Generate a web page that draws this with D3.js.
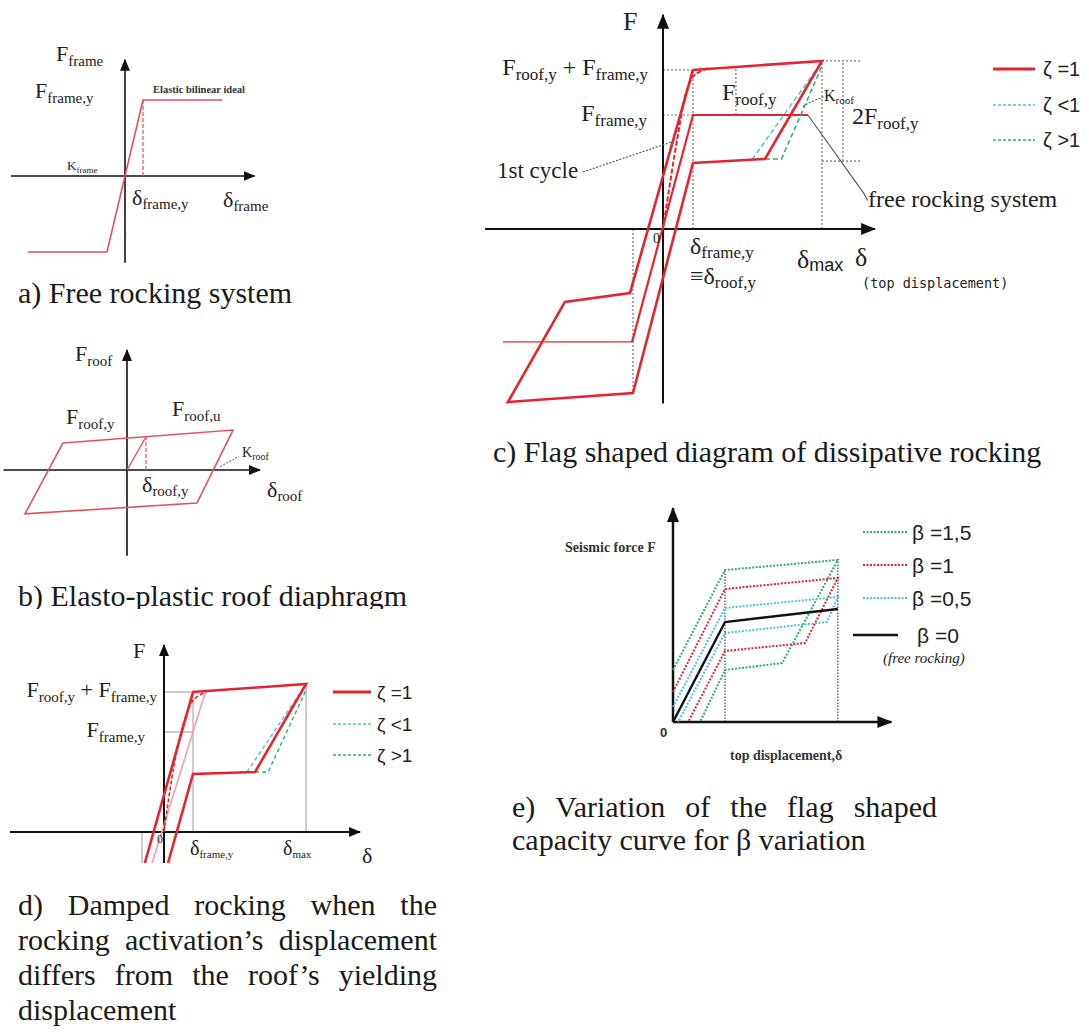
<!DOCTYPE html>
<html><head><meta charset="utf-8">
<script src="https://cdn.jsdelivr.net/npm/d3@7"></script>
<style>body{margin:0;background:#fff} text{white-space:pre}</style>
</head><body>
<svg id="chart" width="1089" height="1034"></svg>
<script>
// ================= DATA (δ in units of yield displacement, F in units of yield force) =================
// (a) free rocking system – elastic bilinear frame
const aFrameCurve = [[-5.4,-1],[-1,-1],[1,1],[5.4,1]];
const aYield = [1, 1];                       // [δframe,y , Fframe,y]
const aAxisX = [-6.33, 7.2], aAxisY = [-1.14, 1.53];
// (b) elasto-plastic roof diaphragm
const bRoofLoop = [[-3.37,0.82],[5.58,1.21],[3.68,-1.0],[-5.37,-1.33],[-3.37,0.82]];
const bRoofElastic = [[0,0],[1,1]];
const bYield = [1, 1];
const bAxisX = [-6.5, 7.0], bAxisY = [-2.6, 3.64];
// (c) flag shaped diagram
const cFlag = [[1,1.395],[5.3,1.474],[3.4,0.614],[1,0.579],[-1,-1.439],[-5.17,-1.518],[-3.27,-0.64],[-1.1,-0.561],[1,1.395]];
const cFreeRocking = [[-1.03,-0.99],[1,1],[4.83,1]];
const cFreeRockingNeg = [[-5.33,-0.99],[-1.03,-0.99]];
const cFirstCycle = [[0,0],[0.45,0.75],[0.8,1.22],[1.05,1.35],[1.5,1.41]];
const cZetaLess = [[2.97,0.61],[5.25,1.45]];
const cZetaMore = [[3.4,0.614],[3.95,0.614],[5.3,1.43]];
const cDeltaY = 1, cDeltaMax = 5.3, cFTop = 1.395, cFTopMax = 1.474, cFFrame = 1, cFLow = 0.596, cDeltaNeg = -1, cFNeg = -1.42;
const cDimX = 6.0, cGuideEnd = 6.57, cFroofX = 2.43, cFroofTop = 1.43;
const cLeader1st = [[-2.67,0.5],[0.47,0.78]];
const cLeaderFree = [[4.83,1],[6.7,0.31],[6.82,0.25]];
const cLeaderK = [[5.35,1.16],[4.95,1.12],[4.63,1.07]];
const cAxisX = [-5.93, 7.07], cAxisY = [-1.53, 1.88];
const cLegend = ['ζ =1','ζ <1','ζ >1'];
// (d) damped rocking
const dFlag = [[-0.66,-0.31],[1,1.4],[4.9,1.48],[3.14,0.6],[1,0.58],[0.14,-0.31]];
const dPink = [[-0.41,-0.31],[1.45,1.42]];
const dFirstCycle = [[0,0],[0.4,0.75],[0.8,1.2],[1.05,1.33],[1.5,1.41]];
const dZetaLess = [[2.86,0.6],[4.9,1.48]];
const dZetaMore = [[3.14,0.6],[3.59,0.6],[4.9,1.42]];
const dDeltaY = 1, dDeltaMax = 4.9, dFTop = 1.4, dFTopMax = 1.48, dFFrame = 1, dDeltaNeg = -0.76, dFBottom = -0.31;
const dAxisX = [-5.31, 6.76], dAxisY = [-0.31, 1.87];
const dLegend = ['ζ =1','ζ <1','ζ >1'];
// (e) beta variation
const eBeta0   = [[0,0],[1,1],[3.17,1.13]];
const eBeta15  = [[0,0.52],[1,1.52],[3.17,1.62],[2.1,0.59],[1,0.52],[0.52,0]];
const eBeta1   = [[0,0.30],[1,1.33],[3.17,1.44],[2.54,0.79],[1,0.71],[0.29,0]];
const eBeta05  = [[0,0.15],[1,1.14],[3.17,1.25],[2.96,1.0],[1,0.89],[0.1,0]];
const eDeltaY = 1, eDeltaMax = 3.17, eFYTop = 1.52, eFMaxTop = 1.62;
const eAxisX = [0, 4.2], eAxisY = [0, 2.14];
const eLegend = ['β =1,5','β =1','β =0,5','β =0'];
// captions
const capA = 'a) Free rocking system';
const capB = 'b) Elasto-plastic roof diaphragm';
const capC = 'c) Flag shaped diagram of dissipative rocking';
const capD = ['d) Damped rocking when the','rocking activation’s displacement','differs from the roof’s yielding','displacement'];
const capE = ['e) Variation of the flag shaped','capacity curve for β variation'];

// ================= STYLE / HELPERS =================
const SERIF = "'Liberation Serif','Times New Roman',serif";
const SANS = "'Liberation Sans',Arial,sans-serif";
const MONO = "'DejaVu Sans Mono',monospace";
const RED = '#e4252f', REDL = '#e4505a', PINK = '#f2a0a6', CYAN = '#4cc3dc', GREEN = '#2fae6b', GUIDE = '#777';
const svg = d3.select('#chart');
const defs = svg.append('defs');
function marker(id, w, h){
  defs.append('marker').attr('id',id).attr('viewBox',`0 0 ${w} ${h}`).attr('refX',w-1).attr('refY',h/2)
    .attr('markerWidth',w).attr('markerHeight',h).attr('markerUnits','userSpaceOnUse').attr('orient','auto')
    .append('path').attr('d',`M0,0L${w},${h/2}L0,${h}z`).attr('fill','#111');
}
marker('arrS',12,10); marker('arrM',15,12);
defs.append('clipPath').attr('id','clipB').append('rect').attr('x',0).attr('y',560).attr('width',1089).attr('height',49);

function panel(xr, yr){ return {x:d3.scaleLinear().domain([0,1]).range(xr), y:d3.scaleLinear().domain([0,1]).range(yr)}; }
const pa = panel([125,143],[176,100]);
const pb = panel([127,146],[470,437]);
const pc = panel([663,693],[229,115]);
const pd = panel([164,193],[832,732]);
const pe = panel([673,725],[722,622]);

function draw(p, data, st, curve){
  const ln = d3.line().x(d=>p.x(d[0])).y(d=>p.y(d[1])).curve(curve||d3.curveLinear);
  const path = svg.append('path').attr('d', ln(data)).attr('fill','none')
    .attr('stroke', st.c).attr('stroke-width', st.w||1).attr('stroke-linejoin','miter');
  if (st.dash) path.attr('stroke-dasharray', st.dash);
  return path;
}
function axes(p, ax, ay, w, m){
  svg.append('line').attr('x1',p.x(ax[0])).attr('x2',p.x(ax[1])).attr('y1',p.y(0)).attr('y2',p.y(0))
    .attr('stroke','#111').attr('stroke-width',w).attr('marker-end',`url(#${m})`);
  svg.append('line').attr('x1',p.x(0)).attr('x2',p.x(0)).attr('y1',p.y(ay[0])).attr('y2',p.y(ay[1]))
    .attr('stroke','#111').attr('stroke-width',w).attr('marker-end',`url(#${m})`);
}
function lab(x, y, parts, o={}){
  const t = svg.append('text').attr('x',x).attr('y',y).attr('font-family',o.family||SERIF)
    .attr('fill',o.fill||'#222').attr('text-anchor',o.anchor||'start');
  if (o.italic) t.attr('font-style','italic');
  if (o.weight) t.attr('font-weight',o.weight);
  let cur = 0;
  parts.forEach(([s,size,off=0,fam])=>{
    const ts = t.append('tspan').attr('font-size',size).attr('dy',off-cur).text(s);
    if (fam) ts.attr('font-family',fam);
    cur = off;
  });
  return t;
}
function caption(x, y, str, size){
  return svg.append('text').attr('x',x).attr('y',y).attr('font-family',SERIF).attr('font-size',size).attr('fill','#1a1a1a').text(str);
}
function justified(x0, x1, y, str, size){
  const words = str.split(' ');
  const t = svg.append('text').attr('y',y).attr('font-family',SERIF).attr('font-size',size).attr('fill','#1a1a1a');
  const spans = words.map(w=>t.append('tspan').text(w));
  const wd = spans.map(s=>s.node().getComputedTextLength());
  const gap = words.length>1 ? (x1-x0-d3.sum(wd))/(words.length-1) : 0;
  let x = x0;
  spans.forEach((s,i)=>{ s.attr('x',x); x += wd[i]+gap; });
}

// ================= (a) =================
axes(pa, aAxisX, aAxisY, 1.6, 'arrS');
draw(pa, aFrameCurve, {c:REDL, w:1.6});
draw(pa, [[aYield[0],0],[aYield[0],aYield[1]]], {c:REDL, w:1.2, dash:'4 2'});
lab(56, 61, [['F',22],['frame',15,5]]);
lab(35, 98, [['F',22],['frame,y',15,5]]);
lab(153, 93, [['Elastic bilinear ideal',10.5]], {weight:'bold', fill:'#333'});
lab(67, 170, [['K',13],['frame',9,3]]);
lab(132, 205, [['δ',22],['frame,y',15,4]]);
lab(223, 207, [['δ',22],['frame',15,4]]);
caption(18, 303, capA, 30);

// ================= (b) =================
axes(pb, bAxisX, bAxisY, 1.6, 'arrS');
draw(pb, bRoofLoop, {c:REDL, w:1.6});
draw(pb, bRoofElastic, {c:REDL, w:1.4});
draw(pb, [[bYield[0],0],[bYield[0],bYield[1]]], {c:REDL, w:1.2, dash:'4 2'});
draw(pb, [[4.9,0.1],[5.9,0.42]], {c:'#555', w:1, dash:'2 1.5'});
lab(75, 361, [['F',22],['roof',15,5]]);
lab(66, 424, [['F',22],['roof,y',15,5]]);
lab(172, 416, [['F',22],['roof,u',15,5]]);
lab(242, 457, [['K',14],['roof',10,3]]);
lab(142, 492, [['δ',22],['roof,y',15,4]]);
lab(267, 497, [['δ',22],['roof',15,4]]);
caption(18, 606, capB, 30).attr('clip-path','url(#clipB)');

// ================= (c) =================
[
  [[0,cFTop],[cDeltaY,cFTop]], [[0,cFFrame],[cDeltaY,cFFrame]], [[cDeltaY,0],[cDeltaY,cFTop]],
  [[cDeltaMax,0],[cDeltaMax,cFTopMax]], [[cDeltaMax,cFTopMax],[cGuideEnd,cFTopMax]], [[cDeltaMax,cFLow],[cGuideEnd,cFLow]],
  [[cDimX,cFLow],[cDimX,cFTopMax]], [[cFroofX,cFFrame],[cFroofX,cFroofTop]], [[cDeltaNeg,0],[cDeltaNeg,cFNeg]]
].forEach(g=>draw(pc, g, {c:GUIDE, w:1.2, dash:'2 2'}));
axes(pc, cAxisX, cAxisY, 2, 'arrM');
draw(pc, cLeader1st, {c:'#555', w:1.1, dash:'2 1.5'});
draw(pc, cLeaderFree, {c:'#555', w:1.1});
draw(pc, cLeaderK, {c:'#555', w:1.1, dash:'2 1.5'}, d3.curveBasis);
draw(pc, cFreeRockingNeg, {c:RED, w:1.3});
draw(pc, cFreeRocking, {c:RED, w:2.2});
draw(pc, cZetaLess, {c:CYAN, w:1.5, dash:'5 3'});
draw(pc, cZetaMore, {c:GREEN, w:1.5, dash:'5 3'});
draw(pc, cFlag, {c:RED, w:2.6});
draw(pc, cFirstCycle, {c:RED, w:2, dash:'5 2'}, d3.curveCatmullRom);
lab(623, 30, [['F',26]]);
lab(648, 75, [['F',24],['roof,y',17,5],[' + ',24,0],['F',24],['frame,y',17,5]], {anchor:'end'});
lab(647, 121, [['F',24],['frame,y',17,5]], {anchor:'end'});
lab(722, 100, [['F',24],['roof,y',17,5]]);
lab(824, 101, [['K',16],['roof',11,3]]);
lab(852, 124, [['2F',24],['roof,y',17,5]]);
lab(497, 178, [['1st cycle',23]]);
lab(868, 207, [['free rocking system',24]]);
lab(653, 243, [['0',14]]);
lab(690, 254, [['δ',24],['frame,y',17,4]]);
lab(690, 284, [['≡δ',24],['roof,y',17,4]]);
lab(797, 268, [['δ',26],['max',18,3,SANS]]);
lab(855, 266, [['δ',26]]);
lab(862, 288, [['(top displacement)',13.5]], {family:MONO});
cLegend.forEach((s,i)=>{
  const y = [69,105,140][i];
  svg.append('line').attr('x1',993).attr('x2',1035).attr('y1',y).attr('y2',y)
    .attr('stroke',[RED,CYAN,GREEN][i]).attr('stroke-width',i?1.5:3).attr('stroke-dasharray',i?'3 2':null);
  lab(1043, y+7, [[s,20]], {family:SANS});
});
caption(493, 462, capC, 30);

// ================= (d) =================
[
  [[0,dFTop],[dDeltaY,dFTop]], [[0,dFFrame],[dDeltaY,dFFrame]], [[dDeltaY,0],[dDeltaY,dFTop]],
  [[dDeltaMax,0],[dDeltaMax,dFTopMax]], [[dDeltaNeg,0],[dDeltaNeg,dFBottom]]
].forEach(g=>draw(pd, g, {c:'#999', w:1}));
axes(pd, dAxisX, dAxisY, 2, 'arrS');
draw(pd, dPink, {c:PINK, w:1.6});
draw(pd, dZetaLess, {c:CYAN, w:1.4, dash:'4 3'});
draw(pd, dZetaMore, {c:GREEN, w:1.4, dash:'4 3'});
draw(pd, dFlag, {c:RED, w:2.6});
draw(pd, dFirstCycle, {c:RED, w:1.6, dash:'4 2'}, d3.curveCatmullRom);
lab(133, 658, [['F',22]]);
lab(157, 697, [['F',22],['roof,y',15,5],[' + ',22,0],['F',22],['frame,y',15,5]], {anchor:'end'});
lab(145, 737, [['F',22],['frame,y',15,5]], {anchor:'end'});
lab(190, 855, [['δ',20],['frame,y',11,3]]);
lab(283, 855, [['δ',20],['max',11,3]]);
lab(362, 863, [['δ',22]]);
lab(157, 843, [['0',12]]);
dLegend.forEach((s,i)=>{
  const y = [692,724,755][i];
  svg.append('line').attr('x1',333).attr('x2',371).attr('y1',y).attr('y2',y)
    .attr('stroke',[RED,CYAN,GREEN][i]).attr('stroke-width',i?1.5:3).attr('stroke-dasharray',i?'3 2':null);
  lab(377, y+7, [[s,19]], {family:SANS});
});
capD.forEach((s,i)=>{ if (i<3) justified(18, 437, 915+35*i, s, 30); else caption(18, 915+35*i, s, 30); });

// ================= (e) =================
[[[eDeltaY,0],[eDeltaY,eFYTop]], [[eDeltaMax,0],[eDeltaMax,eFMaxTop]]].forEach(g=>draw(pe, g, {c:'#444', w:1.2, dash:'1.5 1.5'}));
axes(pe, eAxisX, eAxisY, 2.5, 'arrM');
draw(pe, eBeta15, {c:GREEN, w:2, dash:'2 1.5'});
draw(pe, eBeta1, {c:RED, w:2, dash:'2 1.5'});
draw(pe, eBeta05, {c:CYAN, w:2, dash:'2 1.5'});
draw(pe, eBeta0, {c:'#111', w:2.4});
lab(565, 552, [['Seismic force F',14]], {weight:'bold', fill:'#333'});
lab(660, 737, [['0',13]], {family:SANS, weight:'bold', fill:'#333'});
lab(730, 760, [['top displacement,δ',14]], {weight:'bold', fill:'#333'});
eLegend.forEach((s,i)=>{
  const y = [532,565,598,635][i];
  const c = [GREEN,RED,CYAN,'#111'][i];
  svg.append('line').attr('x1',i<3?863:853).attr('x2',i<3?907:898).attr('y1',y).attr('y2',y)
    .attr('stroke',c).attr('stroke-width',i<3?2:2.5).attr('stroke-dasharray',i<3?'2 1.5':null);
  lab(i<3?912:917, y+8, [[s,21]], {family:SANS});
});
lab(883, 663, [['(free rocking)',15]], {italic:true});
capE.forEach((s,i)=>{ if (i===0) justified(512, 937, 817+33*i, s, 30); else caption(512, 817+33*i, s, 30); });
</script>
</body></html>
